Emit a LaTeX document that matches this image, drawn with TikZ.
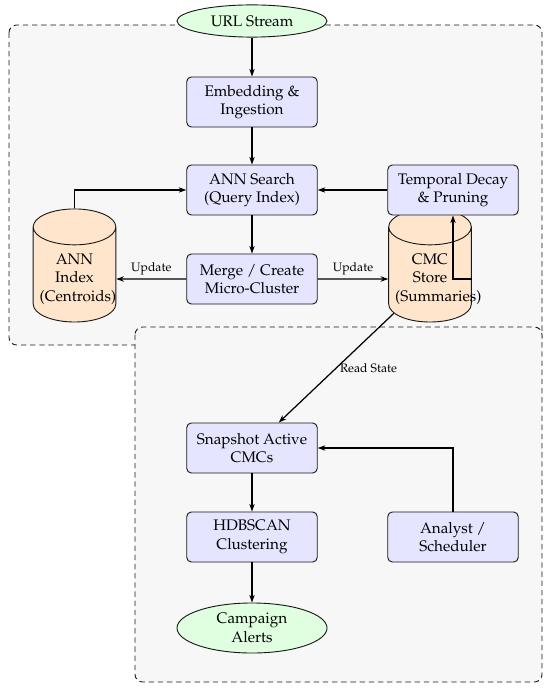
\documentclass[tikz,border=0pt]{standalone}
\usepackage[T1]{fontenc}
\usepackage{mathpazo}
\usetikzlibrary{shapes.geometric,arrows.meta}
\tikzset{
  procbox/.style={draw=black!90, semithick, rounded corners=3pt, fill=blue!10, minimum width=3cm, minimum height=1.15cm, align=center},
  termnode/.style={ellipse, draw=black!90, semithick, fill=green!12, minimum width=3.45cm, align=center, inner sep=2pt},
  storenode/.style={cylinder, shape border rotate=90, aspect=0.45, draw=black!90, semithick, fill=orange!20, minimum width=1.9cm, minimum height=2.6cm, text width=1.6cm, align=center},
  bgbox/.style={draw=black!90, line width=0.6pt, dash pattern=on 3.5pt off 2.5pt, fill=gray!6, rounded corners=5pt},
  arr/.style={-{Stealth[length=5pt,width=3.5pt]}, thick},
  lbl/.style={font=\footnotesize, inner sep=2pt}
}
\begin{document}
\begin{tikzpicture}[x=0.022989cm, y=-0.022989cm]
\useasboundingbox (0,0) rectangle (550,688);
\draw[bgbox] (9,25) rectangle (542,345);
\draw[bgbox] (135,327) rectangle (542,682);

\node[termnode, minimum height=0.74cm] (url) at (252,21) {URL Stream};
\node[procbox] (emb) at (252,102) {Embedding \&\\Ingestion};
\node[procbox] (search) at (252,190) {ANN Search\\(Query Index)};
\node[storenode] (ann) at (74.5,279) {ANN\\Index\\(Centroids)};
\node[storenode] (cmc) at (430,279) {CMC\\Store\\(Summaries)};
\node[procbox] (decay) at (453,190) {Temporal Decay\\\& Pruning};
\node[procbox] (merge) at (252,279) {Merge / Create\\Micro-Cluster};
\node[procbox] (snap) at (252,448) {Snapshot Active\\CMCs};
\node[procbox] (hdb) at (252,537) {HDBSCAN\\Clustering};
\node[procbox] (analyst) at (453,537) {Analyst /\\Scheduler};
\node[termnode] (alert) at (252,628) {Campaign\\Alerts};

\draw[arr] (url) -- (emb);
\draw[arr] (emb) -- (search);
\draw[arr] (ann.north) |- (search.west);
\draw[arr] (decay) -- (search);
\draw[arr] (search) -- (merge);
\draw[arr] (merge) -- node[above, lbl] {Update} (ann);
\draw[arr] (merge) -- node[above, lbl] {Update} (cmc);
\draw[arr] (cmc.east) -| (decay.south);
\draw[arr] (cmc) -- node[right, lbl] {Read State} (snap);
\draw[arr] (snap) -- (hdb);
\draw[arr] (hdb) -- (alert);
\draw[arr] (analyst.north) |- (snap.east);
\end{tikzpicture}
\end{document}
